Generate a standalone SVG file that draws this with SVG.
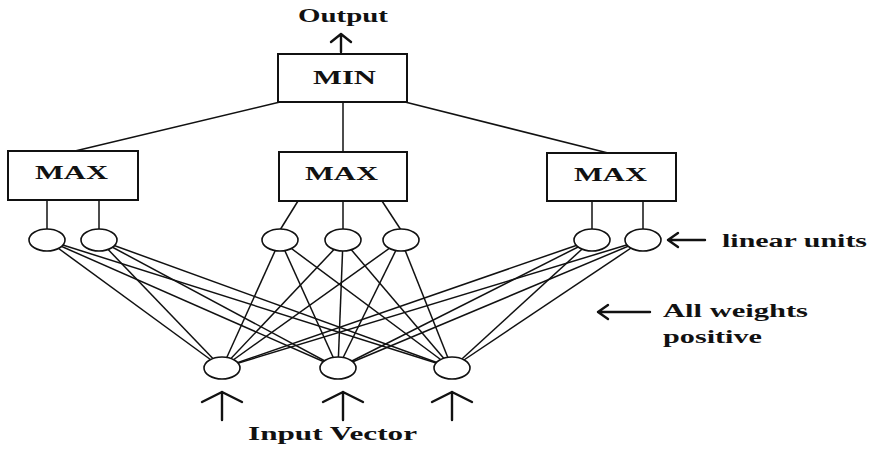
<svg xmlns="http://www.w3.org/2000/svg" width="869" height="450" viewBox="0 0 869 450">
  <style>
    .box { fill: #fff; stroke: #111; stroke-width: 2; }
    .unit { fill: #fff; stroke: #111; stroke-width: 1.6; }
    .wire { stroke: #111; stroke-width: 1.5; fill: none; }
    .arrow { stroke: #111; stroke-width: 2.4; fill: none; stroke-linecap: round; stroke-linejoin: round; }
    .lbl { font-family: "Liberation Serif", "Times New Roman", serif; font-weight: bold; font-size: 18px; fill: #111; }
  </style>

  <!-- connectors -->
  <g id="connectors">
    <!-- MIN to MAX -->
    <line class="wire" x1="280" y1="102" x2="75" y2="151"/>
    <line class="wire" x1="343" y1="102" x2="343" y2="152"/>
    <line class="wire" x1="405" y1="102" x2="608" y2="153"/>
    <!-- MAX to linear units -->
    <line class="wire" x1="47" y1="200" x2="47" y2="230"/>
    <line class="wire" x1="99" y1="200" x2="99" y2="230"/>
    <line class="wire" x1="298" y1="201" x2="280" y2="230"/>
    <line class="wire" x1="343" y1="201" x2="343" y2="230"/>
    <line class="wire" x1="382" y1="201" x2="401" y2="230"/>
    <line class="wire" x1="592" y1="201" x2="592" y2="230"/>
    <line class="wire" x1="643" y1="201" x2="643" y2="230"/>
    <!-- linear units to inputs (all weights positive) -->
    <g>
      <line class="wire" x1="47" y1="240" x2="222" y2="368"/>
      <line class="wire" x1="47" y1="240" x2="338" y2="368"/>
      <line class="wire" x1="47" y1="240" x2="452" y2="368"/>
      <line class="wire" x1="99" y1="240" x2="222" y2="368"/>
      <line class="wire" x1="99" y1="240" x2="338" y2="368"/>
      <line class="wire" x1="99" y1="240" x2="452" y2="368"/>
      <line class="wire" x1="280" y1="240" x2="222" y2="368"/>
      <line class="wire" x1="280" y1="240" x2="338" y2="368"/>
      <line class="wire" x1="280" y1="240" x2="452" y2="368"/>
      <line class="wire" x1="343" y1="240" x2="222" y2="368"/>
      <line class="wire" x1="343" y1="240" x2="338" y2="368"/>
      <line class="wire" x1="343" y1="240" x2="452" y2="368"/>
      <line class="wire" x1="401" y1="240" x2="222" y2="368"/>
      <line class="wire" x1="401" y1="240" x2="338" y2="368"/>
      <line class="wire" x1="401" y1="240" x2="452" y2="368"/>
      <line class="wire" x1="592" y1="240" x2="222" y2="368"/>
      <line class="wire" x1="592" y1="240" x2="338" y2="368"/>
      <line class="wire" x1="592" y1="240" x2="452" y2="368"/>
      <line class="wire" x1="643" y1="240" x2="222" y2="368"/>
      <line class="wire" x1="643" y1="240" x2="338" y2="368"/>
      <line class="wire" x1="643" y1="240" x2="452" y2="368"/>
    </g>
    <!-- output arrow -->
    <path class="arrow" d="M341 52 V34 M331 42 L341 34 L351 42"/>
    <!-- input arrows -->
    <path class="arrow" d="M222 420 V392 M202 402 L222 392 L242 402"/>
    <path class="arrow" d="M343 420 V392 M323 402 L343 392 L363 402"/>
    <path class="arrow" d="M452 420 V392 M432 402 L452 392 L472 402"/>
    <!-- annotation arrows -->
    <path class="arrow" d="M705 240 H668 M678 233 L668 240 L678 247"/>
    <path class="arrow" d="M650 312 H598 M608 305 L598 312 L608 319"/>
  </g>

  <g id="min">
    <rect class="box" x="278" y="54" width="129" height="48"/>
    <text class="lbl" x="313" y="84" font-size="20" textLength="63" lengthAdjust="spacingAndGlyphs">MIN</text>
  </g>

  <g id="max-left">
    <rect class="box" x="8" y="151" width="130" height="49"/>
    <text class="lbl" x="35" y="179" textLength="73" lengthAdjust="spacingAndGlyphs">MAX</text>
  </g>
  <g id="max-center">
    <rect class="box" x="279" y="152" width="128" height="49"/>
    <text class="lbl" x="305" y="180" textLength="73" lengthAdjust="spacingAndGlyphs">MAX</text>
  </g>
  <g id="max-right">
    <rect class="box" x="547" y="153" width="129" height="48"/>
    <text class="lbl" x="574" y="181" textLength="73" lengthAdjust="spacingAndGlyphs">MAX</text>
  </g>

  <g id="linear-1"><ellipse class="unit" cx="47" cy="240" rx="18" ry="11"/></g>
  <g id="linear-2"><ellipse class="unit" cx="99" cy="240" rx="18" ry="11"/></g>
  <g id="linear-3"><ellipse class="unit" cx="280" cy="240" rx="18" ry="11"/></g>
  <g id="linear-4"><ellipse class="unit" cx="343" cy="240" rx="18" ry="11"/></g>
  <g id="linear-5"><ellipse class="unit" cx="401" cy="240" rx="18" ry="11"/></g>
  <g id="linear-6"><ellipse class="unit" cx="592" cy="240" rx="18" ry="11"/></g>
  <g id="linear-7"><ellipse class="unit" cx="643" cy="240" rx="18" ry="11"/></g>

  <g id="input-1"><ellipse class="unit" cx="222" cy="368" rx="18" ry="11"/></g>
  <g id="input-2"><ellipse class="unit" cx="338" cy="368" rx="18" ry="11"/></g>
  <g id="input-3"><ellipse class="unit" cx="452" cy="368" rx="18" ry="11"/></g>

  <g id="labels">
    <text class="lbl" x="298" y="22" textLength="90" lengthAdjust="spacingAndGlyphs">Output</text>
    <text class="lbl" x="248" y="440" textLength="169" lengthAdjust="spacingAndGlyphs">Input Vector</text>
    <text class="lbl" x="722" y="247" textLength="145" lengthAdjust="spacingAndGlyphs">linear units</text>
    <text class="lbl" x="663" y="317" textLength="145" lengthAdjust="spacingAndGlyphs">All weights</text>
    <text class="lbl" x="663" y="343" textLength="99" lengthAdjust="spacingAndGlyphs">positive</text>
  </g>
</svg>
